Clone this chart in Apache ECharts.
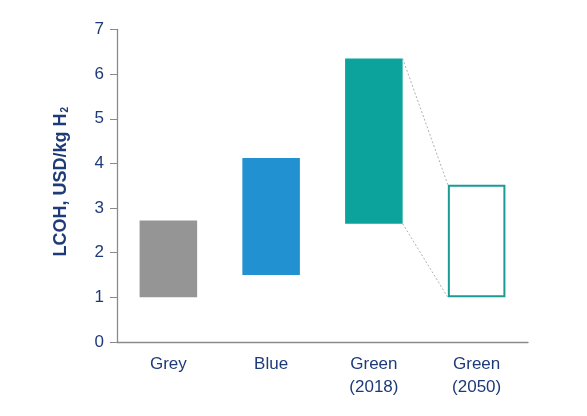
<!DOCTYPE html>
<html><head><meta charset="utf-8">
<script src="https://cdn.jsdelivr.net/npm/echarts@6/dist/echarts.min.js"></script>
<style>html,body{margin:0;padding:0;background:#fff}#c{width:587px;height:416px}</style>
</head><body><div id="c"></div>
<script>
var categories = ['Grey', 'Blue', 'Green\n(2018)', 'Green\n(2050)'];
var lowValues = [1.0, 1.5, 2.65, 1.0];
var highValues = [2.72, 4.12, 6.35, 3.52];
var yTicks = [0, 1, 2, 3, 4, 5, 6, 7];
var fills = ['#959595', '#2291d1', '#0ba39c', '#ffffff'];
var outlineIdx = 3;

var navy = '#1e3a78';
var chart = echarts.init(document.getElementById('c'));
var rangeData = categories.map(function (c, i) { return [i, lowValues[i], highValues[i]]; });
chart.setOption({
  animation: false,
  grid: { left: 117, right: 59, top: 29.5, bottom: 74 },
  xAxis: {
    type: 'category', data: categories,
    axisLine: { lineStyle: { color: '#8a8a8a', width: 1.3 } },
    axisTick: { show: false },
    axisLabel: { color: navy, fontSize: 17, fontFamily: 'Liberation Sans', margin: 11, lineHeight: 23 }
  },
  yAxis: {
    type: 'value', min: yTicks[0], max: yTicks[yTicks.length - 1], interval: 1,
    name: '{a|LCOH, USD/kg H}{s|2}', nameLocation: 'middle', nameGap: 47,
    nameTextStyle: {
      color: navy, fontSize: 18, fontWeight: 'bold', fontFamily: 'Liberation Sans', padding: [0, 0, 0, 8],
      rich: {
        a: { color: navy, fontSize: 18, fontWeight: 'bold', fontFamily: 'Liberation Sans' },
        s: { color: navy, fontSize: 10, fontWeight: 'bold', fontFamily: 'Liberation Sans', verticalAlign: 'bottom', padding: [8, 0, 0, 1] }
      }
    },
    axisLine: { show: true, lineStyle: { color: '#8a8a8a', width: 1.3 } },
    axisTick: { show: true, length: 7, lineStyle: { color: '#8a8a8a' } },
    splitLine: { show: false },
    axisLabel: { color: navy, fontSize: 17, fontFamily: 'Liberation Sans', margin: 13 }
  },
  series: [
    {
      type: 'custom',
      data: rangeData,
      renderItem: function (params, api) {
        var i = api.value(0);
        var lo = api.coord([i, api.value(1)]);
        var hi = api.coord([i, api.value(2)]);
        var w = api.size([1, 0])[0] * 0.56;
        var outline = i === outlineIdx;
        return {
          type: 'rect',
          shape: { x: lo[0] - w / 2 + (outline ? 1 : 0), y: hi[1] + (outline ? 1 : 0), width: w - (outline ? 2 : 0), height: lo[1] - hi[1] - (outline ? 2 : 0) },
          style: { fill: fills[i], stroke: outline ? '#1a9c94' : null, lineWidth: outline ? 2 : 0 }
        };
      }
    },
    {
      type: 'custom',
      data: [[2, 3]],
      renderItem: function (params, api) {
        var a = api.value(0), b = api.value(1);
        var w = api.size([1, 0])[0] * 0.56;
        var aHi = api.coord([a, highValues[a]]), aLo = api.coord([a, lowValues[a]]);
        var bHi = api.coord([b, highValues[b]]), bLo = api.coord([b, lowValues[b]]);
        var st = { stroke: '#b0b0b0', lineWidth: 1, lineDash: [2, 2] };
        return {
          type: 'group',
          children: [
            { type: 'line', shape: { x1: aHi[0] + w / 2, y1: aHi[1], x2: bHi[0] - w / 2, y2: bHi[1] }, style: st },
            { type: 'line', shape: { x1: aLo[0] + w / 2, y1: aLo[1], x2: bLo[0] - w / 2, y2: bLo[1] }, style: st }
          ]
        };
      }
    }
  ]
});
</script></body></html>
